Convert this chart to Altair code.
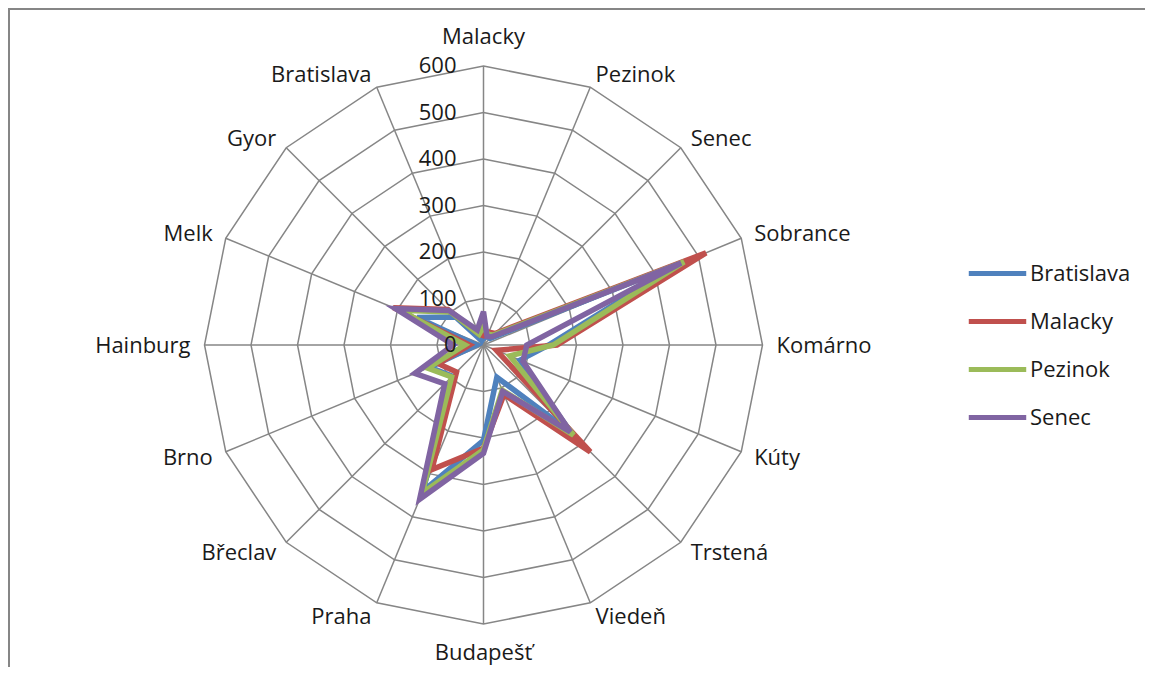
import altair as alt
import pandas as pd

categories = ["Malacky", "Pezinok", "Senec", "Sobrance", "Komárno", "Kúty", "Trstená",
              "Viedeň", "Budapešť", "Praha", "Břeclav", "Brno", "Hainburg", "Melk",
              "Gyor", "Bratislava"]
series_names = ["Bratislava", "Malacky", "Pezinok", "Senec"]
bratislava = [15, 20, 20, 455, 140, 85, 265, 75, 205, 340, 95, 125, 15, 155, 85, 10]
malacky = [20, 30, 35, 518, 158, 30, 325, 115, 222, 290, 82, 105, 30, 210, 108, 25]
pezinok = [40, 25, 30, 467, 150, 61, 274, 105, 225, 345, 97, 130, 40, 195, 100, 25]
senec = [72, 20, 25, 460, 93, 92, 264, 108, 233, 359, 118, 160, 65, 205, 105, 35]
ring_values = [100, 200, 300, 400, 500, 600]
tick_values = [0, 100, 200, 300, 400, 500, 600]
colors = ["#4F81BD", "#C0504D", "#9BBB59", "#8064A2"]

series_values = [bratislava, malacky, pezinok, senec]
rows = []
for name, vals in zip(series_names, series_values):
    for i, (c, v) in enumerate(zip(categories, vals)):
        rows.append({"series": name, "idx": i, "category": c, "value": v})
df = pd.DataFrame(rows)

ring_df = pd.DataFrame([{"ring": r, "idx": i} for r in ring_values for i in range(len(categories))])
spoke_df = pd.DataFrame([{"idx": i, "r": max(ring_values)} for i in range(len(categories))])
label_df = pd.DataFrame([{"idx": i, "category": c} for i, c in enumerate(categories)])
tick_df = pd.DataFrame({"v": tick_values, "label": [str(t) for t in tick_values]})

W, H = 1137, 659
k = 279 / 600.0          # px per unit
cx, cy = 475.5, 337.0    # center in view pixels
xmin = -cx / k
xmax = xmin + W / k
ymax = cy / k
ymin = ymax - H / k
xs = alt.Scale(domain=[xmin, xmax], nice=False, zero=False)
ys = alt.Scale(domain=[ymin, ymax], nice=False, zero=False)
N = len(categories)
ang = f"datum.idx*2*PI/{N}"
font = "Open Sans"
fsize = 22
grey = "#868686"
tcol = "#1a1a1a"

rings = alt.Chart(ring_df).mark_line(interpolate="linear-closed", color=grey, strokeWidth=1.5).transform_calculate(
    x=f"datum.ring*sin({ang})", y=f"datum.ring*cos({ang})"
).encode(x=alt.X("x:Q", scale=xs, axis=None), y=alt.Y("y:Q", scale=ys, axis=None),
         order="idx:Q", detail="ring:N")

spokes = alt.Chart(spoke_df).mark_rule(color=grey, strokeWidth=1.5).transform_calculate(
    x0="0", y0="0", x1=f"datum.r*sin({ang})", y1=f"datum.r*cos({ang})"
).encode(x=alt.X("x0:Q", scale=xs, axis=None), y=alt.Y("y0:Q", scale=ys, axis=None),
         x2="x1:Q", y2="y1:Q")

lines = alt.Chart(df).mark_line(interpolate="linear-closed", strokeWidth=5.5, strokeJoin="miter").transform_calculate(
    x=f"datum.value*sin({ang})", y=f"datum.value*cos({ang})"
).encode(
    x=alt.X("x:Q", scale=xs, axis=None), y=alt.Y("y:Q", scale=ys, axis=None),
    order="idx:Q",
    color=alt.Color("series:N", scale=alt.Scale(domain=series_names, range=colors),
                    legend=alt.Legend(title=None, orient="none", legendX=958, legendY=234,
                                      symbolType="stroke", symbolStrokeWidth=5, symbolSize=3300,
                                      labelFont=font, labelFontSize=fsize, labelColor=tcol,
                                      rowPadding=5, labelOffset=1, labelLimit=300))
)

ticks = alt.Chart(tick_df).mark_text(align="right", baseline="middle", dx=-27, font=font, fontSize=fsize, color=tcol).transform_calculate(
    x0="0"
).encode(x=alt.X("x0:Q", scale=xs, axis=None), y=alt.Y("v:Q", scale=ys, axis=None), text="label:N")

def label_layer(filter_expr, align, baseline, dy=0):
    return alt.Chart(label_df).mark_text(align=align, baseline=baseline, dy=dy, font=font, fontSize=fsize, color=tcol).transform_filter(
        filter_expr
    ).transform_calculate(
        x=f"630*sin({ang})", y=f"630*cos({ang})"
    ).encode(x=alt.X("x:Q", scale=xs, axis=None), y=alt.Y("y:Q", scale=ys, axis=None), text="category:N")

half = N // 2
lab_top = label_layer("datum.idx == 0", "center", "bottom", -3)
lab_bot = label_layer(f"datum.idx == {half}", "center", "top", 5)
lab_right = label_layer(f"datum.idx > 0 && datum.idx < {half}", "left", "middle", 1)
lab_left = label_layer(f"datum.idx > {half}", "right", "middle", 1)

top_border = alt.Chart(tick_df).mark_rule(color=grey, strokeWidth=2).encode(
    x=alt.value(0), x2=alt.value(W + 8), y=alt.value(1))
left_border = alt.Chart(tick_df).mark_rule(color=grey, strokeWidth=2).encode(
    x=alt.value(1), y=alt.value(0), y2=alt.value(H))

chart = alt.layer(top_border, left_border, rings, spokes, lines, ticks,
                  lab_top, lab_bot, lab_right, lab_left).properties(
    width=W, height=H, padding=0, autosize=alt.AutoSizeParams(type="none")
).configure_view(stroke=None).configure(background="white")

chart.save("out.html", embed_options={"renderer": "svg", "actions": False})
